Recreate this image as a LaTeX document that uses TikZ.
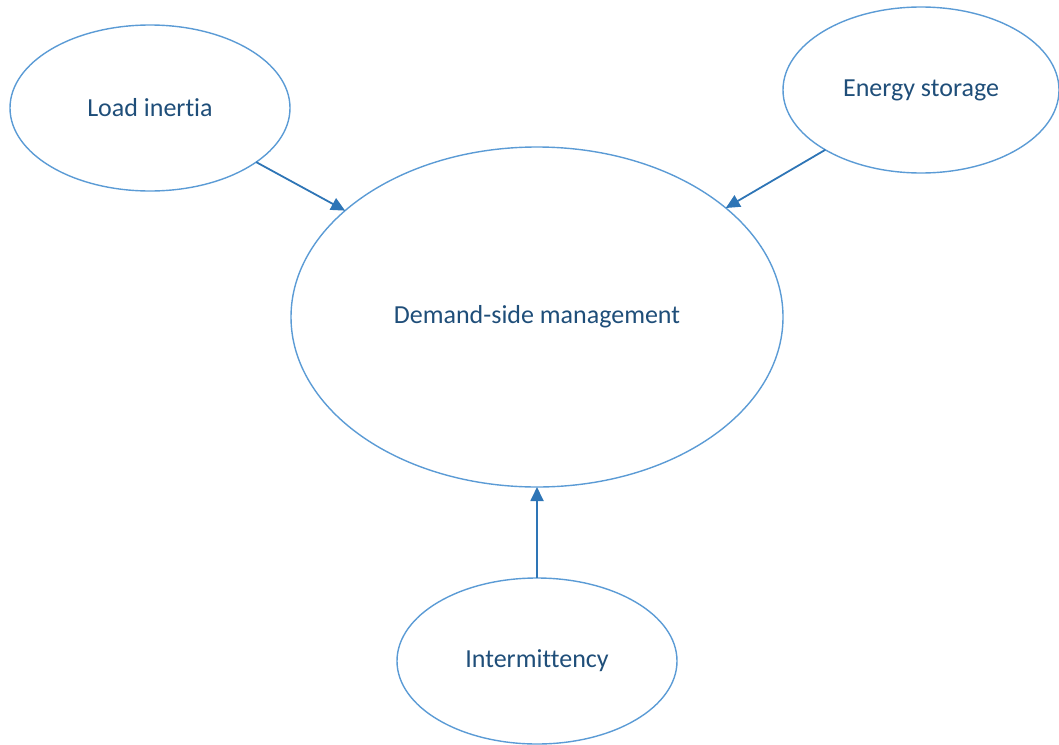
\documentclass[tikz,border=0pt]{standalone}
\usepackage{fontspec}
\setmainfont{Carlito}[Ligatures={NoCommon}]
\usetikzlibrary{
  arrows.meta,
  shapes,
}
\definecolor{ringblue}{HTML}{5B9BD5}
\definecolor{arrowblue}{HTML}{2E75B6}
\definecolor{textblue}{HTML}{1F4E79}
\tikzset{
  x = 0.5pt,
  y = -0.5pt,
  bub/.style={
    ellipse, draw=ringblue, line width=0.7pt, text=textblue,
    inner sep=0pt, outer sep=0pt, font=\fontsize{13}{15}\selectfont,
  },
  feeds/.style={draw=arrowblue, line width=0.9pt,
    -{Triangle[length=7pt,width=6.5pt]}},
}

\begin{document}
\begin{tikzpicture}
  \useasboundingbox (0,0) rectangle (1059,744);
  \node[bub, minimum width=246pt, minimum height=170pt](DSM) at (537,317){Demand-side management};
  \node[bub, minimum width=140pt, minimum height=83pt](Load) at (150,108){Load inertia};
  \node[bub, minimum width=138pt, minimum height=83pt](Store) at (921,90){Energy storage};
  \node[bub, minimum width=140pt, minimum height=83pt](Inter) at (537,661){Intermittency};
  %%
  \draw[feeds](Load.-27.6) -- (DSM.151.5);
  \draw[feeds](Store.212) -- (DSM.30.2);
  \draw[feeds](Inter.north) -- (DSM.south);
\end{tikzpicture}
\end{document}
